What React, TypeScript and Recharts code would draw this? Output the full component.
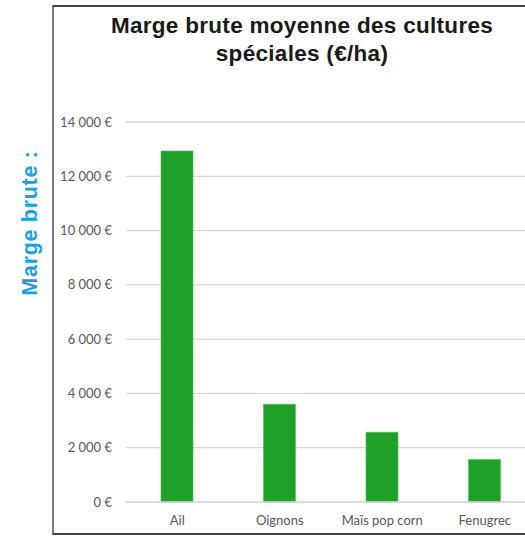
import React from "react";
import { BarChart, Bar, XAxis, YAxis, CartesianGrid } from "recharts";

const categories = ["Ail", "Oignons", "Maïs pop corn", "Fenugrec"];
const margeBrute = [12930, 3600, 2570, 1570];
const yTicks = [0, 2000, 4000, 6000, 8000, 10000, 12000, 14000];
const titleLines = ["Marge brute moyenne des cultures", "spéciales (€/ha)"];
const yLabel = "Marge brute :";

const data = categories.map((c, i) => ({ name: c, value: margeBrute[i] }));

const fmt = (v: number) => {
  const s = String(v).replace(/\B(?=(\d{3})+(?!\d))/g, " ");
  return s + " €";
};

export default function App() {
  return (
    <div
      style={{
        position: "fixed",
        left: 0,
        top: 0,
        width: 525,
        height: 536,
        overflow: "hidden",
        background: "#fff",
      }}
    >
      <div
        style={{
          position: "absolute",
          left: 52,
          top: 5,
          width: 600,
          height: 526,
          borderLeft: "2px solid #7a7a7a",
          borderTop: "2px solid #404040",
          borderBottom: "2px solid #404040",
        }}
      />
      <div style={{ position: "absolute", left: 0, top: 0 }}>
        <BarChart
          width={560}
          height={536}
          data={data}
          margin={{ top: 122, right: 24, bottom: 4, left: 56 }}
        >
          <CartesianGrid vertical={false} stroke="#d9d9d9" strokeWidth={1.3} />
          <XAxis
            dataKey="name"
            height={30}
            axisLine={{ stroke: "#d9d9d9", strokeWidth: 1.3 }}
            tickLine={false}
            tickMargin={8}
            tick={{ fill: "#595959", fontSize: 13, fontFamily: "Lato" }}
          />
          <YAxis
            width={70}
            domain={[0, 14000]}
            ticks={yTicks}
            tickFormatter={fmt}
            axisLine={false}
            tickLine={false}
            tickMargin={8}
            tick={{ fill: "#595959", fontSize: 13, fontFamily: "Lato" }}
          />
          <Bar
            dataKey="value"
            fill="#1fa028"
            stroke="#4cc054"
            strokeWidth={0.6}
            barSize={32}
            isAnimationActive={false}
          />
        </BarChart>
      </div>
      <svg
        width={525}
        height={536}
        style={{ position: "absolute", left: 0, top: 0, pointerEvents: "none" }}
      >
        <text
          x={302}
          y={33}
          textAnchor="middle"
          fontFamily="Liberation Sans"
          fontWeight="bold"
          fontSize={22.5}
          letterSpacing={0.3}
          fill="#1a1a1a"
        >
          {titleLines[0]}
        </text>
        <text
          x={302}
          y={61}
          textAnchor="middle"
          fontFamily="Liberation Sans"
          fontWeight="bold"
          fontSize={22.5}
          letterSpacing={0.3}
          fill="#1a1a1a"
        >
          {titleLines[1]}
        </text>
        <text
          x={37}
          y={223}
          transform="rotate(-90 37 223)"
          textAnchor="middle"
          fontFamily="Liberation Sans"
          fontWeight="bold"
          fontSize={21.5}
          letterSpacing={0.7}
          fill="#1ba0e1"
        >
          {yLabel}
        </text>
      </svg>
    </div>
  );
}
